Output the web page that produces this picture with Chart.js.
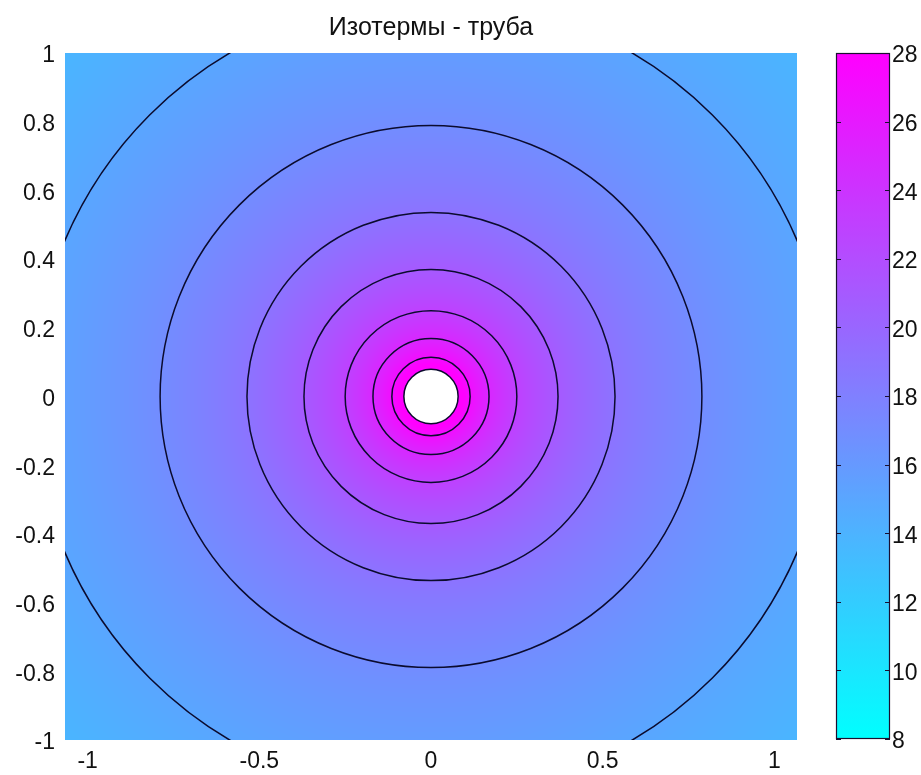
<!DOCTYPE html>
<html>
<head>
<meta charset="utf-8">
<script src="https://cdn.jsdelivr.net/npm/chart.js@4/dist/chart.umd.min.js"></script>
<style>
  html, body { margin: 0; padding: 0; background: #fff; }
  #wrap { position: relative; width: 921px; height: 775px; overflow: hidden; }
  #mainChart { position: absolute; left: 0; top: 0; }
  #barChart { position: absolute; left: 780px; top: 0; }
</style>
</head>
<body>
<div id="wrap">
  <canvas id="mainChart" width="862" height="775"></canvas>
  <canvas id="barChart" width="141" height="775"></canvas>
</div>
<script>
// isotherm levels (deg) and their radii (axis units)
const isoLevels = [27, 25, 23, 21, 19, 17, 15];
const isoRadii = [0.114, 0.169, 0.250, 0.370, 0.536, 0.789, 1.159];
// the pipe itself
const pipeRadius = 0.079;
const pipeTemp = 29;
// colour range of the colorbar
const cMin = 8;
const cMax = 28;
// tick labels
const xTicks = [-1, -0.5, 0, 0.5, 1];
const yTicks = [-1, -0.8, -0.6, -0.4, -0.2, 0, 0.2, 0.4, 0.6, 0.8, 1];
const cbTicks = [8, 10, 12, 14, 16, 18, 20, 22, 24, 26, 28];

const FONT = { family: "'Liberation Sans', Arial, sans-serif", size: 23 };

// MATLAB "cool" colormap
function cool(v) {
  let t = (v - cMin) / (cMax - cMin);
  t = Math.max(0, Math.min(1, t));
  return [Math.round(255 * t), Math.round(255 * (1 - t)), 255];
}

// temperature at radius r, piecewise linear in ln(r) between the isotherms
const rAll = [pipeRadius].concat(isoRadii);
const tAll = [pipeTemp].concat(isoLevels);
function tempAt(r) {
  const lr = Math.log(r);
  let i = 0;
  while (i < rAll.length - 2 && r > rAll[i + 1]) i++;
  const l0 = Math.log(rAll[i]), l1 = Math.log(rAll[i + 1]);
  return tAll[i] + (tAll[i + 1] - tAll[i]) * (lr - l0) / (l1 - l0);
}

const fieldPlugin = {
  id: 'field',
  beforeDatasetsDraw(chart) {
    const { ctx, chartArea: a, scales: { x, y } } = chart;
    const w = Math.round(a.right - a.left), h = Math.round(a.bottom - a.top);
    const off = document.createElement('canvas');
    off.width = w; off.height = h;
    const octx = off.getContext('2d');
    const img = octx.createImageData(w, h);
    for (let j = 0; j < h; j++) {
      const yv = y.getValueForPixel(a.top + j + 0.5);
      for (let i = 0; i < w; i++) {
        const xv = x.getValueForPixel(a.left + i + 0.5);
        const r = Math.hypot(xv, yv);
        const k = (j * w + i) * 4;
        let c = [255, 255, 255];
        if (r > pipeRadius) c = cool(tempAt(r));
        img.data[k] = c[0]; img.data[k + 1] = c[1]; img.data[k + 2] = c[2]; img.data[k + 3] = 255;
      }
    }
    octx.putImageData(img, 0, 0);
    ctx.drawImage(off, a.left, a.top);

    // isotherms + pipe outline
    const cx = x.getPixelForValue(0), cy = y.getPixelForValue(0);
    ctx.save();
    ctx.beginPath();
    ctx.rect(a.left, a.top, a.right - a.left, a.bottom - a.top);
    ctx.clip();
    ctx.strokeStyle = '#0b0b2e';
    ctx.lineWidth = 1.5;
    rAll.forEach(r => {
      const rx = x.getPixelForValue(r) - cx;
      const ry = cy - y.getPixelForValue(r);
      ctx.beginPath();
      ctx.ellipse(cx, cy, rx, ry, 0, 0, Math.PI * 2);
      ctx.stroke();
    });
    ctx.restore();
  }
};

new Chart(document.getElementById('mainChart'), {
  type: 'scatter',
  data: { datasets: [] },
  plugins: [fieldPlugin],
  options: {
    responsive: false,
    animation: false,
    layout: { padding: { left: 0, right: 65, top: 0, bottom: 0 } },
    plugins: {
      legend: { display: false },
      tooltip: { enabled: false },
      title: {
        display: true,
        fullSize: false,
        text: 'Изотермы - труба',
        color: '#111',
        font: { family: FONT.family, size: 25, weight: 'normal' },
        padding: { top: 13, bottom: 10 }
      }
    },
    scales: {
      x: {
        type: 'linear',
        min: -1.066,
        max: 1.066,
        afterBuildTicks: s => { s.ticks = xTicks.map(v => ({ value: v })); },
        afterFit: s => { s.height = 35; },
        grid: { display: false, drawTicks: false },
        border: { display: false },
        ticks: { color: '#111', font: FONT, padding: 8, maxRotation: 0, callback: v => String(v) }
      },
      y: {
        type: 'linear',
        min: -1,
        max: 1,
        afterBuildTicks: s => { s.ticks = yTicks.map(v => ({ value: v })); },
        afterFit: s => { s.width = 65; },
        grid: { display: false, drawTicks: false },
        border: { display: false },
        ticks: { color: '#111', font: FONT, padding: 10, labelOffset: 3, callback: v => String(v) }
      }
    }
  }
});

const barPlugin = {
  id: 'colorbar',
  beforeDatasetsDraw(chart) {
    const { ctx, chartArea: a, scales: { y } } = chart;
    const g = ctx.createLinearGradient(0, y.getPixelForValue(cMin), 0, y.getPixelForValue(cMax));
    for (let s = 0; s <= 10; s++) {
      const v = cMin + (cMax - cMin) * s / 10;
      const c = cool(v);
      g.addColorStop(s / 10, `rgb(${c[0]},${c[1]},${c[2]})`);
    }
    ctx.save();
    ctx.fillStyle = g;
    ctx.fillRect(a.left, a.top, a.right - a.left, a.bottom - a.top);
    ctx.strokeStyle = '#1a1030';
    ctx.lineWidth = 1.2;
    ctx.strokeRect(a.left + 0.5, a.top + 0.5, a.right - a.left - 1, a.bottom - a.top - 1);
    ctx.beginPath();
    cbTicks.forEach(v => {
      const py = Math.round(y.getPixelForValue(v)) + 0.5;
      ctx.moveTo(a.left, py); ctx.lineTo(a.left + 5, py);
      ctx.moveTo(a.right, py); ctx.lineTo(a.right - 5, py);
    });
    ctx.stroke();
    ctx.restore();
  }
};

new Chart(document.getElementById('barChart'), {
  type: 'scatter',
  data: { datasets: [] },
  plugins: [barPlugin],
  options: {
    responsive: false,
    animation: false,
    layout: { padding: { left: 56, right: 0, top: 53, bottom: 36 } },
    plugins: { legend: { display: false }, tooltip: { enabled: false } },
    scales: {
      x: { display: false, min: 0, max: 1 },
      y: {
        type: 'linear',
        position: 'right',
        min: cMin,
        max: cMax,
        afterBuildTicks: s => { s.ticks = cbTicks.map(v => ({ value: v })); },
        afterFit: s => { s.width = 31; },
        grid: { display: false, drawTicks: false },
        border: { display: false },
        ticks: { color: '#111', font: FONT, padding: 2, labelOffset: 3, callback: v => String(v) }
      }
    }
  }
});
</script>
</body>
</html>
